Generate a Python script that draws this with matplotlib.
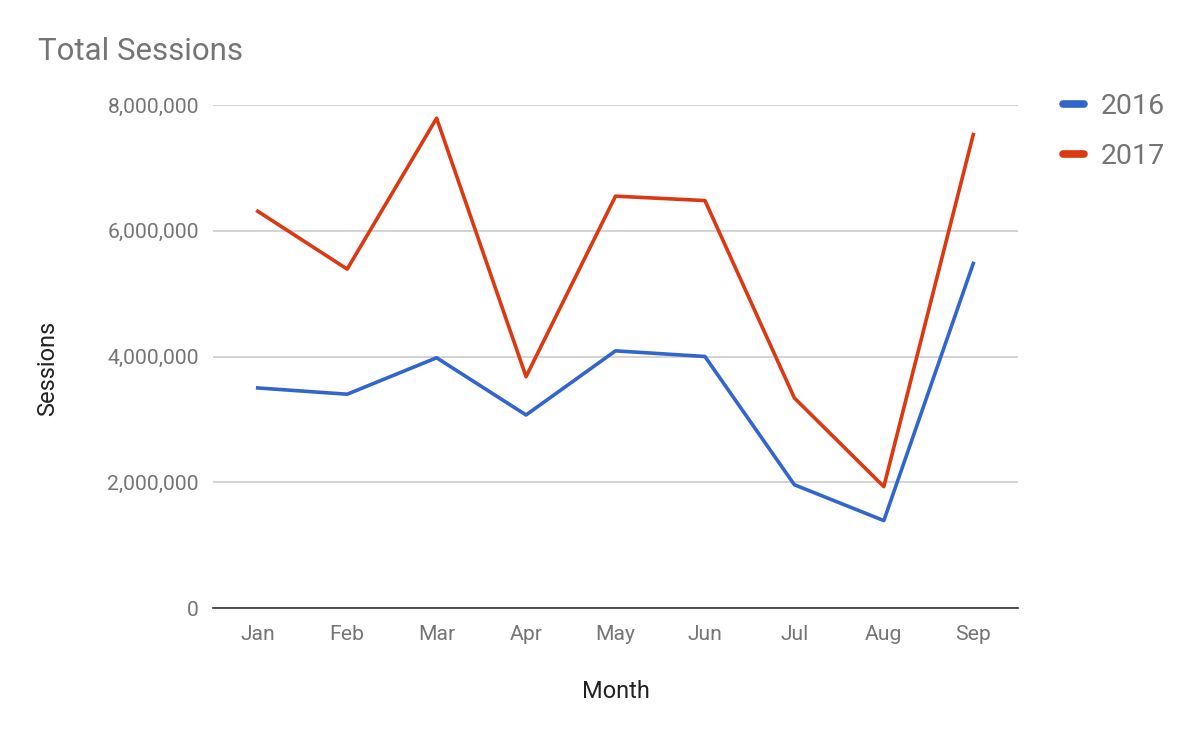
import matplotlib
matplotlib.use("Agg")
import matplotlib.pyplot as plt
from matplotlib.ticker import FuncFormatter

# --- DADOS ---
meses = ["Jan", "Feb", "Mar", "Apr", "May", "Jun", "Jul", "Aug", "Sep"]
sessoes_2016 = [3500000, 3400000, 3980000, 3070000, 4090000, 4000000, 1960000, 1390000, 5480000]
sessoes_2017 = [6310000, 5390000, 7790000, 3680000, 6550000, 6480000, 3340000, 1930000, 7530000]

AZUL = "#3366cc"
VERMELHO = "#dc3912"
CINZA = "#757575"

plt.rcParams["font.family"] = ["Roboto", "DejaVu Sans"]

fig = plt.figure(figsize=(12, 7.42), dpi=100)
ax = fig.add_axes([213 / 1200, 1 - 608 / 742, 805 / 1200, 503 / 742])

x = range(len(meses))
ax.plot(x, sessoes_2016, color=AZUL, linewidth=2.6, label="2016")
ax.plot(x, sessoes_2017, color=VERMELHO, linewidth=2.6, label="2017")

ax.set_xlim(-0.5, len(meses) - 0.5)
ax.set_ylim(0, 8000000)
ax.set_yticks([0, 2000000, 4000000, 6000000, 8000000])
ax.yaxis.set_major_formatter(FuncFormatter(lambda v, p: f"{int(v):,}"))
ax.set_xticks(list(x))
ax.set_xticklabels(meses)

ax.grid(axis="y", color="#cccccc", linewidth=1.2)
ax.set_axisbelow(True)
for lado in ["top", "right", "left"]:
    ax.spines[lado].set_visible(False)
ax.spines["bottom"].set_color("#333333")
ax.spines["bottom"].set_linewidth(1.2)
ax.tick_params(axis="both", length=0, labelsize=15.2, labelcolor=CINZA)
ax.tick_params(axis="y", pad=10)
ax.tick_params(axis="x", pad=12)

# rótulos dos eixos posicionados em pixels da figura
fig.text(616 / 1200, 1 - 691 / 742, "Month", fontsize=17, color="#222222",
         ha="center", va="center")
fig.text(47.5 / 1200, 1 - 368 / 742, "Sessions", fontsize=17, color="#222222",
         ha="center", va="center", rotation=90)

fig.text(38 / 1200, 1 - 52 / 742, "Total Sessions", fontsize=22.5, color=CINZA,
         va="center", ha="left")

leg = ax.legend(loc="upper left", bbox_to_anchor=(1.024, 1.075), frameon=False,
                fontsize=20.5, handlelength=0.75, handletextpad=0.58, labelspacing=0.8,
                labelcolor=CINZA)
for linha in leg.get_lines():
    linha.set_linewidth(5.5)
    linha.set_solid_capstyle("round")

fig.savefig("out.png", dpi=100)
